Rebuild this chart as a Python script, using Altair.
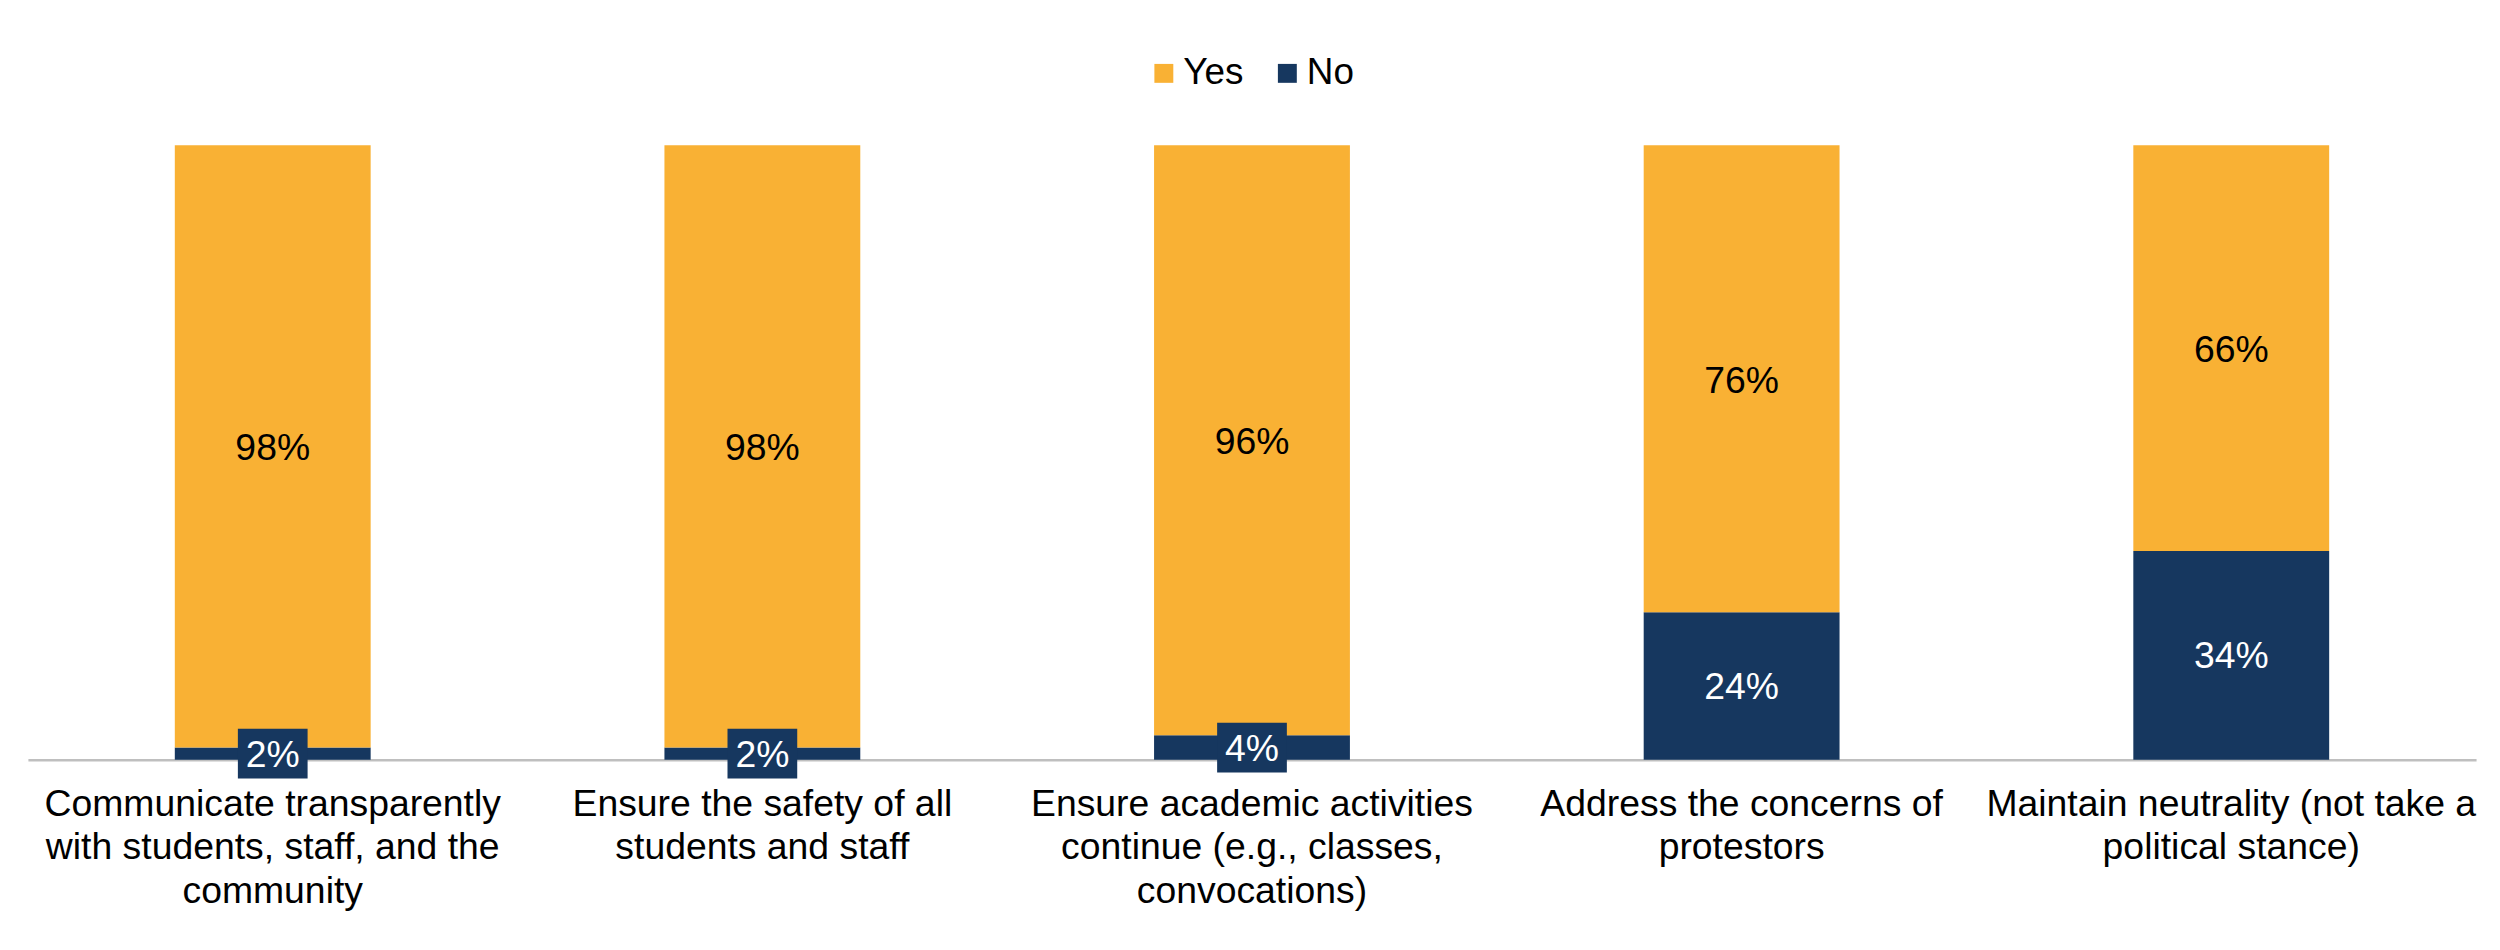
import json
import altair as alt
import pandas as pd

categories = [
    "Communicate transparently with students, staff, and the community",
    "Ensure the safety of all students and staff",
    "Ensure academic activities continue (e.g., classes, convocations)",
    "Address the concerns of protestors",
    "Maintain neutrality (not take a political stance)",
]
label_lines = [
    ["Communicate transparently", "with students, staff, and the", "community"],
    ["Ensure the safety of all", "students and staff"],
    ["Ensure academic activities", "continue (e.g., classes,", "convocations)"],
    ["Address the concerns of", "protestors"],
    ["Maintain neutrality (not take a", "political stance)"],
]
yes_vals = [98, 98, 96, 76, 66]
no_vals = [2, 2, 4, 24, 34]
series = ["Yes", "No"]
colors = ["#F9B134", "#16375F"]

rows = []
for c, yv, nv in zip(categories, yes_vals, no_vals):
    rows.append({"cat": c, "resp": "No", "val": nv, "ord": 0})
    rows.append({"cat": c, "resp": "Yes", "val": yv, "ord": 1})
df = pd.DataFrame(rows)

FONT = "Liberation Sans"
label_map = json.dumps(dict(zip(categories, label_lines)))

base = (
    alt.Chart(df)
    .transform_stack(
        stack="val", groupby=["cat"], as_=["y0", "y1"],
        sort=[alt.SortField("ord", order="ascending")],
    )
    .transform_calculate(mid="(datum.y0 + datum.y1) / 2", lab="datum.val + '%'")
)

xscale = alt.Scale(paddingInner=0.6, paddingOuter=0.3)
x_axis = alt.X(
    "cat:N", sort=categories, scale=xscale, title=None,
    axis=alt.Axis(
        labelExpr=f"{label_map}[datum.label]",
        labelAngle=0, ticks=False, labelPadding=26, labelBaseline="top",
        labelFont=FONT, labelFontSize=37.5, labelColor="#000000",
        labelLineHeight=43.5, labelLimit=0, labelOverlap=False,
        domainColor="#BFBFBF", domainWidth=2.5, grid=False,
    ),
)
yscale = alt.Scale(domain=[0, 100])
y_mid = alt.Y("mid:Q", scale=yscale, axis=None)

bars = base.mark_bar().encode(
    x=x_axis,
    y=alt.Y("y0:Q", scale=yscale, axis=None),
    y2="y1:Q",
    color=alt.Color(
        "resp:N",
        scale=alt.Scale(domain=series, range=colors),
        legend=alt.Legend(
            title=None, orient="none", direction="horizontal",
            legendX=1122, legendY=-91,
            symbolType="square", symbolSize=361, symbolStrokeWidth=0,
            labelFont=FONT, labelFontSize=37, labelColor="#000000",
            labelOffset=1, columnPadding=25,
        ),
    ),
)

yes_text = base.transform_filter("datum.resp == 'Yes'").mark_text(
    font=FONT, fontSize=37.5, color="#000000", dy=3
).encode(x=x_axis, y=y_mid, text="lab:N")

boxes = base.transform_filter("datum.resp == 'No' && datum.val < 10").mark_point(
    shape="M-1.4,-1L1.4,-1L1.4,1L-1.4,1Z", size=2500, filled=True,
    color=colors[1], opacity=1, strokeWidth=0,
).encode(x=x_axis, y=y_mid)

no_text = base.transform_filter("datum.resp == 'No'").mark_text(
    font=FONT, fontSize=37.5, color="#FFFFFF", dy=2
).encode(x=x_axis, y=y_mid, text="lab:N")

chart = (
    alt.layer(bars, yes_text, boxes, no_text)
    .properties(
        width=2458, height=617,
        padding={"left": 20, "top": 136, "right": 16, "bottom": 180},
        autosize=alt.AutoSizeParams(type="none"),
        view=alt.ViewBackground(stroke="transparent", strokeWidth=0, strokeOpacity=0),
    )
    .configure(
        background="#FFFFFF",
        view=alt.ViewConfig(stroke="transparent", strokeWidth=0, strokeOpacity=0),
        style={"cell": {"stroke": "transparent", "strokeWidth": 0}},
    )
)

chart.save("out.html", embed_options={"renderer": "svg", "actions": False})
